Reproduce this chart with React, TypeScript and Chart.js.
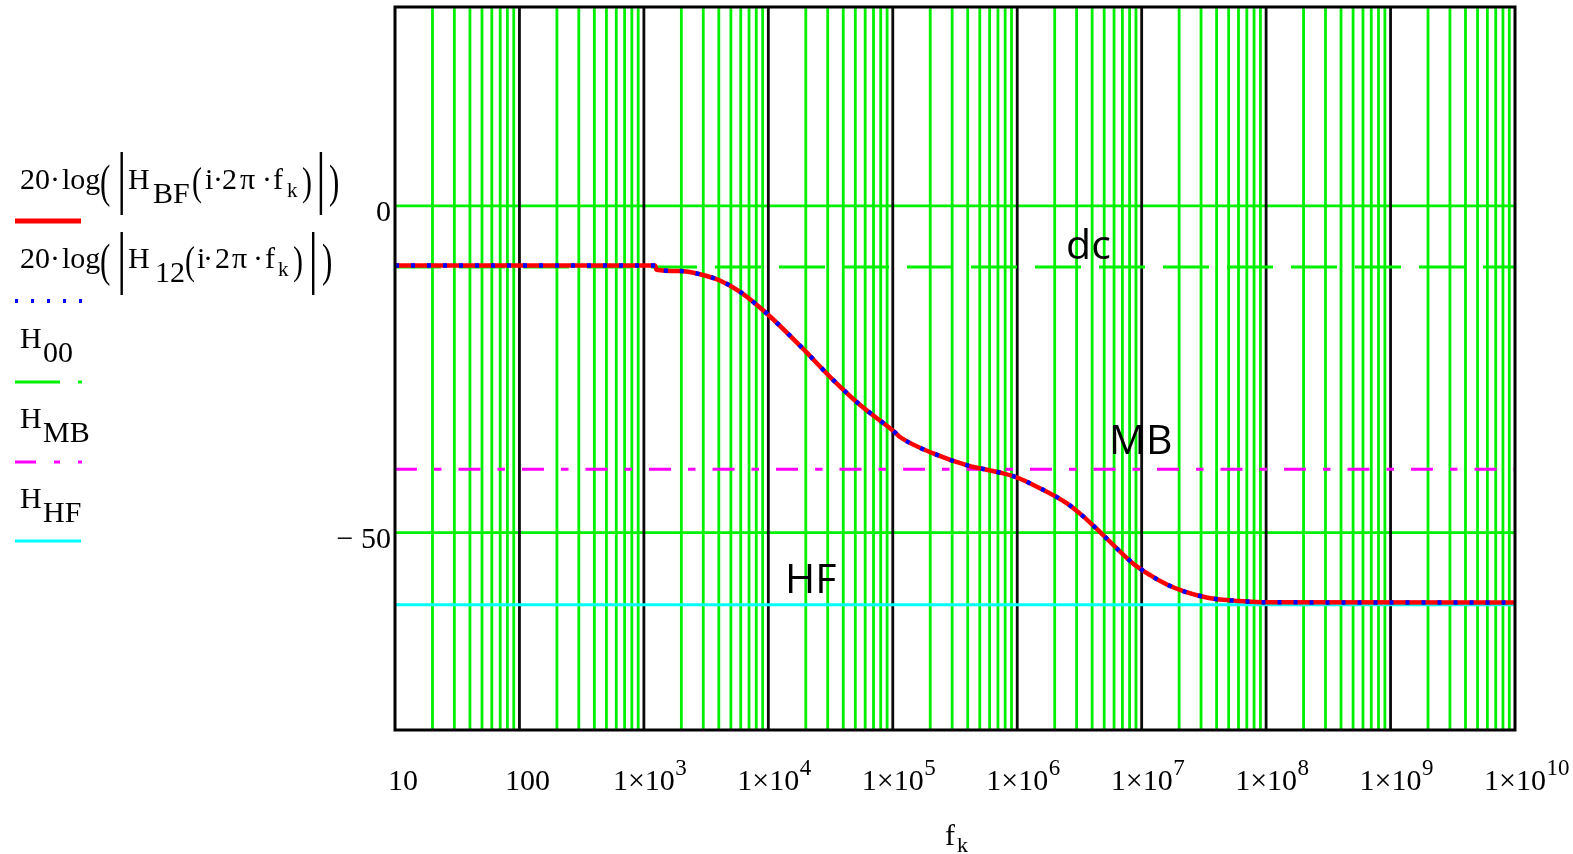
import React, { useEffect, useRef } from "react";
import { Chart, registerables } from "chart.js";
Chart.register(...registerables);

// ---------- data ----------
const freqHz = [10, 100, 1000, 1230, 1260, 1950, 2820, 4070, 5890, 9770, 18200, 33100, 55000, 102000, 115000, 214000, 398000, 724000, 977000, 1350000, 2510000, 3390000, 4680000, 6310000, 8510000, 11700000, 15800000, 21900000, 29500000, 40700000, 55000000, 102000000, 1e10];
const gainBF = [-9.1, -9.1, -9.1, -9.1, -9.75, -9.95, -10.45, -11.4, -13.1, -16.5, -21.5, -26.6, -30.5, -34.5, -35.4, -37.9, -39.7, -40.8, -41.5, -42.7, -45.5, -47.5, -50.0, -52.4, -54.7, -56.5, -57.9, -59.0, -59.7, -60.2, -60.4, -60.65, -60.7];
const gain12 = [-9.1, -9.1, -9.1, -9.1, -9.75, -9.95, -10.45, -11.4, -13.1, -16.5, -21.5, -26.6, -30.5, -34.5, -35.4, -37.9, -39.7, -40.8, -41.5, -42.7, -45.5, -47.5, -50.0, -52.4, -54.7, -56.5, -57.9, -59.0, -59.7, -60.2, -60.4, -60.65, -60.7];
const levelX = [10, 1e10];
const levelH00 = -9.35;
const levelHMB = -40.3;
const levelHHF = -61.05;

const xMin = 10;
const xMax = 1e10;
const yMin = -80.2;
const yMax = 30.45;

const xTickValues = [10, 100, 1e3, 1e4, 1e5, 1e6, 1e7, 1e8, 1e9, 1e10];
const xTickBase = ["10", "100", "1×10", "1×10", "1×10", "1×10", "1×10", "1×10", "1×10", "1×10"];
const xTickExp = ["", "", "3", "4", "5", "6", "7", "8", "9", "10"];
const yTickValues = [0, -50];
const yTickLabels = ["0", "\u2212 50"];

const annoText = ["dc", "MB", "HF"];
const annoX = [2.47e6, 5.47e6, 1.36e4];
const annoY = [-8.11, -37.96, -59.23];

const SERIF = '"Liberation Serif", "Times New Roman", serif';
const SANS = '"Open Sans", "Noto Sans", sans-serif';
const GREEN = "rgb(0,240,0)";

function txt(ctx: CanvasRenderingContext2D, s: string, x: number, y: number, size: number, align: CanvasTextAlign = "left", family = SERIF) {
  ctx.font = `${size}px ${family}`;
  ctx.textAlign = align;
  ctx.textBaseline = "alphabetic";
  ctx.fillText(s, x, y);
}

// tall thin glyph (stretched vertically), e.g. big parentheses
function tall(ctx: CanvasRenderingContext2D, s: string, x: number, y: number, size: number, sy: number) {
  ctx.save();
  ctx.translate(x, y);
  ctx.scale(1, sy);
  txt(ctx, s, 0, 0, size);
  ctx.restore();
}

function seg(ctx: CanvasRenderingContext2D, x1: number, y1: number, x2: number, y2: number) {
  ctx.beginPath();
  ctx.moveTo(x1, y1);
  ctx.lineTo(x2, y2);
  ctx.stroke();
}

const mcadPlugin = {
  id: "mcad",
  beforeDatasetsDraw(chart: any) {
    const { ctx, chartArea: a, scales } = chart;
    const xs = scales.x, ys = scales.y;
    ctx.save();
    ctx.strokeStyle = GREEN;
    ctx.lineWidth = 2.8;
    for (let i = 0; i < xTickValues.length - 1; i++) {
      for (let m = 2; m <= 9; m++) {
        const px = xs.getPixelForValue(xTickValues[i] * m);
        seg(ctx, px, a.top, px, a.bottom);
      }
    }
    for (const v of yTickValues) {
      const py = ys.getPixelForValue(v);
      seg(ctx, a.left, py, a.right, py);
    }
    ctx.strokeStyle = "#0a0a0a";
    ctx.lineWidth = 2.8;
    for (let i = 1; i < xTickValues.length - 1; i++) {
      const px = xs.getPixelForValue(xTickValues[i]);
      seg(ctx, px, a.top, px, a.bottom);
    }
    ctx.restore();
  },
  afterDatasetsDraw(chart: any) {
    const { ctx, chartArea: a, scales } = chart;
    const xs = scales.x, ys = scales.y;
    ctx.save();
    // border
    ctx.strokeStyle = "#000";
    ctx.lineWidth = 3;
    ctx.strokeRect(a.left, a.top, a.right - a.left, a.bottom - a.top);

    ctx.fillStyle = "#000";
    // x tick labels
    for (let i = 0; i < xTickValues.length; i++) {
      const px = xs.getPixelForValue(xTickValues[i]);
      if (!xTickExp[i]) {
        txt(ctx, xTickBase[i], px + 8, 790, 30, "center");
      } else {
        ctx.font = `30px ${SERIF}`;
        const w = ctx.measureText(xTickBase[i]).width;
        txt(ctx, xTickBase[i], px, 790, 30, "center");
        txt(ctx, xTickExp[i], px + w / 2 + 0.5, 775, 23, "left");
      }
    }
    // y tick labels
    for (let i = 0; i < yTickValues.length; i++) {
      const py = ys.getPixelForValue(yTickValues[i]);
      txt(ctx, yTickLabels[i], 391, py + 15, 30, "right");
    }
    // axis title
    txt(ctx, "f", 945, 845, 30);
    txt(ctx, "k", 957, 852, 22);

    // annotations
    for (let i = 0; i < annoText.length; i++) {
      txt(ctx, annoText[i], xs.getPixelForValue(annoX[i]), ys.getPixelForValue(annoY[i]), 41, "left", SANS);
    }

    // legend: two expression entries
    const exprs = [
      { B: 189, bt: 152, bb: 215, sub: "BF", subX: 153, subB: 203, io: 192, i: 205, d1: 218, two: 222, pi: 240, d2: 267, f: 273, k: 287, kB: 197, ic: 302, bar2: 320.7, oc: 329 },
      { B: 268, bt: 232, bb: 295, sub: "12", subX: 155, subB: 282, io: 185, i: 197, d1: 208, two: 215, pi: 232, d2: 258, f: 265, k: 278, kB: 276, ic: 293, bar2: 313, oc: 322 },
    ];
    for (const e of exprs) {
      txt(ctx, "20", 20, e.B, 30);
      txt(ctx, "·", 55, e.B, 30, "center");
      txt(ctx, "log", 62, e.B, 30);
      tall(ctx, "(", 100, e.B + 8, 31, 1.5);
      ctx.fillRect(120.5, e.bt, 2.4, e.bb - e.bt);
      txt(ctx, "H", 128, e.B, 30);
      txt(ctx, e.sub, e.subX, e.subB, 30);
      tall(ctx, "(", e.io, e.B + 6, 30, 1.3);
      txt(ctx, "i", e.i, e.B, 30);
      txt(ctx, "·", e.d1, e.B, 30, "center");
      txt(ctx, "2", e.two, e.B, 30);
      txt(ctx, "π", e.pi, e.B, 30);
      txt(ctx, "·", e.d2, e.B, 30, "center");
      txt(ctx, "f", e.f, e.B, 30);
      txt(ctx, "k", e.k, e.kB, 21);
      tall(ctx, ")", e.ic, e.B + 6, 30, 1.3);
      ctx.fillRect(e.bar2 - 1, e.bt, 2.4, e.bb - e.bt);
      tall(ctx, ")", e.oc, e.B + 8, 31, 1.5);
    }
    const simple = [
      { sub: "00", B: 348 },
      { sub: "MB", B: 428 },
      { sub: "HF", B: 508 },
    ];
    for (const s of simple) {
      txt(ctx, "H", 20, s.B, 30);
      txt(ctx, s.sub, 43, s.B + 14, 30);
    }
    // legend samples
    ctx.lineCap = "butt";
    ctx.strokeStyle = "rgb(255,0,0)";
    ctx.lineWidth = 5;
    seg(ctx, 15, 221, 81, 221);
    ctx.strokeStyle = "rgb(0,0,255)";
    ctx.lineWidth = 4;
    ctx.setLineDash([3, 13]);
    seg(ctx, 15, 301, 82, 301);
    ctx.setLineDash([]);
    ctx.strokeStyle = GREEN;
    ctx.lineWidth = 3;
    seg(ctx, 15, 382, 60, 382);
    seg(ctx, 78, 382, 82, 382);
    ctx.strokeStyle = "rgb(255,0,255)";
    seg(ctx, 15, 462, 36, 462);
    seg(ctx, 54, 462, 60, 462);
    seg(ctx, 78, 462, 82, 462);
    ctx.strokeStyle = "rgb(0,255,255)";
    seg(ctx, 15, 541, 81, 541);
    ctx.restore();
  },
};

export default function App() {
  const ref = useRef<HTMLCanvasElement | null>(null);
  useEffect(() => {
    const canvas = ref.current!;
    const pts = (xs: number[], ys: number[]) => xs.map((x, i) => ({ x, y: ys[i] }));
    const chart = new Chart(canvas, {
      type: "scatter",
      data: {
        datasets: [
          { label: "H12", data: pts(freqHz, gain12), showLine: true, borderColor: "rgb(0,0,255)", borderWidth: 4.5, borderDash: [4, 12], pointRadius: 0, order: 0, cubicInterpolationMode: "monotone" },
          { label: "HBF", data: pts(freqHz, gainBF), showLine: true, borderColor: "rgb(255,0,0)", borderWidth: 4.5, pointRadius: 0, order: 1, cubicInterpolationMode: "monotone" },
          { label: "HHF", data: pts(levelX, levelX.map(() => levelHHF)), showLine: true, borderColor: "rgb(0,255,255)", borderWidth: 3, pointRadius: 0, order: 2 },
          { label: "HMB", data: pts(levelX, levelX.map(() => levelHMB)), showLine: true, borderColor: "rgb(255,0,255)", borderWidth: 3, borderDash: [22, 17, 7.5, 17], pointRadius: 0, order: 3 },
          { label: "H00", data: pts(levelX, levelX.map(() => levelH00)), showLine: true, borderColor: GREEN, borderWidth: 3, borderDash: [46, 18], pointRadius: 0, order: 4 },
        ] as any,
      },
      options: {
        animation: false,
        responsive: false,
        devicePixelRatio: 1,
        layout: { padding: { left: 395, right: 58, top: 7, bottom: 124 } },
        plugins: { legend: { display: false }, tooltip: { enabled: false } },
        events: [],
        scales: {
          x: { type: "logarithmic", min: xMin, max: xMax, display: false },
          y: { type: "linear", min: yMin, max: yMax, display: false },
        },
      } as any,
      plugins: [mcadPlugin],
    });
    let alive = true;
    (document as any).fonts?.ready?.then(() => { if (alive) chart.draw(); });
    return () => { alive = false; chart.destroy(); };
  }, []);
  return (
    <div style={{ position: "fixed", left: 0, top: 0, width: 1573, height: 854, background: "#fff" }}>
      <canvas ref={ref} width={1573} height={854} style={{ display: "block", width: 1573, height: 854 }} />
    </div>
  );
}
